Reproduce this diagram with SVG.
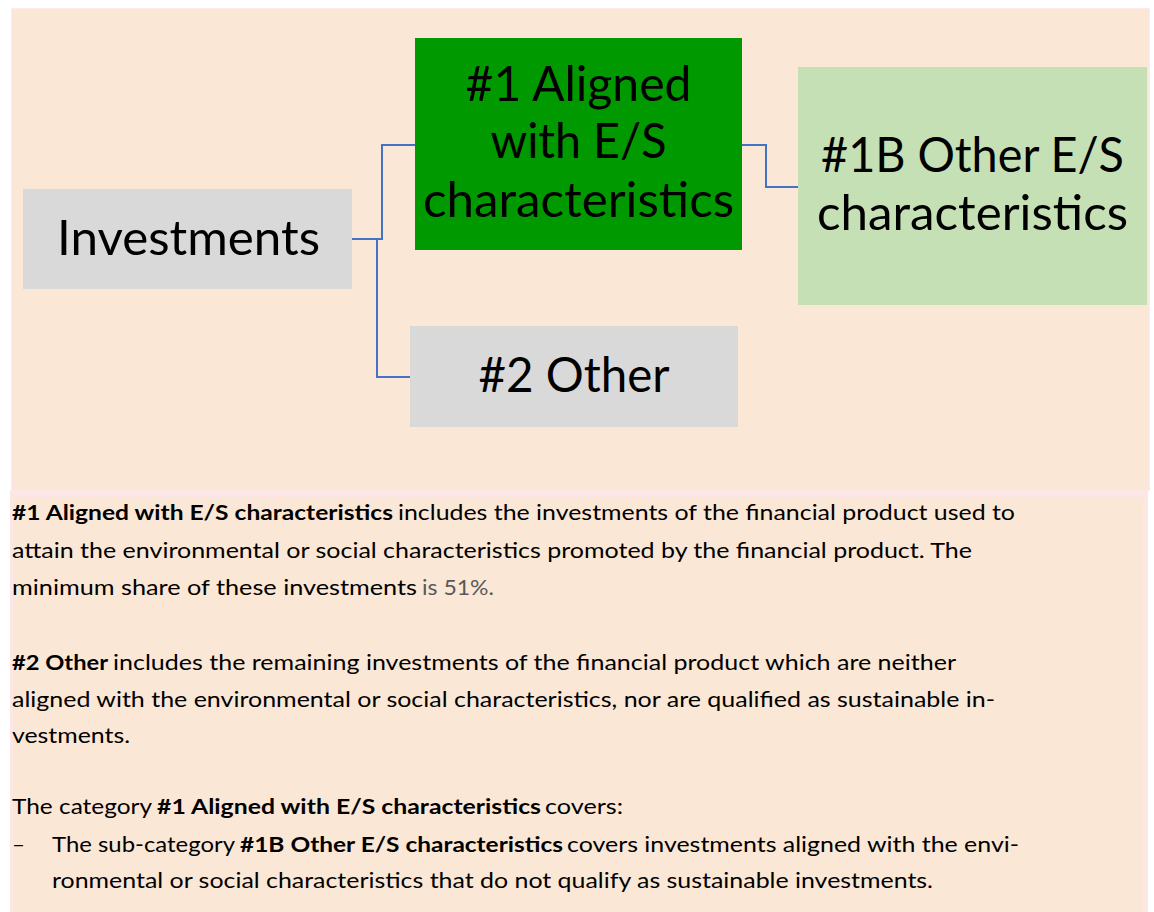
<svg xmlns="http://www.w3.org/2000/svg" width="1154" height="912" viewBox="0 0 1154 912">
<style>
.lbl{font-family:Lato,"Open Sans","Liberation Sans",sans-serif;font-size:48px;fill:#000;text-anchor:middle}
.body{font-family:Lato,"Open Sans","Liberation Sans",sans-serif;font-size:21.5px;fill:#000}
.b{font-weight:bold}
.grey{fill:#595959}
.conn{fill:none;stroke:#4472C4;stroke-width:2}
</style>
<rect x="0" y="0" width="1154" height="912" fill="#ffffff"/>
<rect x="12" y="9" width="1137" height="481" fill="#FBE7D6" stroke="#FDE4E4" stroke-width="1.5"/>
<rect x="10" y="490" width="1138" height="422" fill="#FDE6E6"/>
<rect x="13" y="497" width="1130" height="415" fill="#FBE7D6"/>

<g id="connectors">
<path class="conn" d="M352 239 H382 V145 H415"/>
<path class="conn" d="M377 239 V377 H410"/>
<path class="conn" d="M742 145 H766 V187 H798"/>
</g>

<g id="investments">
<rect x="23" y="189" width="329" height="100" fill="#D9D9D9"/>
<text class="lbl" x="188.5" y="255" textLength="263" lengthAdjust="spacingAndGlyphs">Investments</text>
</g>

<g id="aligned">
<rect x="415" y="38" width="327" height="212" fill="#009900"/>
<text class="lbl" x="578.5" y="101" textLength="226" lengthAdjust="spacingAndGlyphs">#1 Aligned</text>
<text class="lbl" x="578.5" y="158" textLength="176" lengthAdjust="spacingAndGlyphs">with E/S</text>
<text class="lbl" x="578.5" y="217" textLength="311" lengthAdjust="spacingAndGlyphs">characteristics</text>
</g>

<g id="other-es">
<rect x="798" y="67" width="349" height="238" fill="#C5E0B4"/>
<text class="lbl" x="972.5" y="172" textLength="303" lengthAdjust="spacingAndGlyphs">#1B Other E/S</text>
<text class="lbl" x="972.5" y="230" textLength="311" lengthAdjust="spacingAndGlyphs">characteristics</text>
</g>

<g id="other">
<rect x="410" y="326" width="328" height="101" fill="#D9D9D9"/>
<text class="lbl" x="574" y="392" textLength="191" lengthAdjust="spacingAndGlyphs">#2 Other</text>
</g>

<g id="description">
<text class="body" y="520"><tspan class="b" x="12" textLength="381" lengthAdjust="spacingAndGlyphs">#1 Aligned with E/S characteristics</tspan><tspan x="398" textLength="617" lengthAdjust="spacingAndGlyphs">includes the investments of the financial product used to</tspan></text>
<text class="body" x="12" y="558" textLength="960" lengthAdjust="spacingAndGlyphs">attain the environmental or social characteristics promoted by the financial product. The</text>
<text class="body" y="595"><tspan x="12" textLength="405" lengthAdjust="spacingAndGlyphs">minimum share of these investments</tspan><tspan class="grey" x="422" textLength="72" lengthAdjust="spacingAndGlyphs">is 51%.</tspan></text>

<text class="body" y="670"><tspan class="b" x="12" textLength="96" lengthAdjust="spacingAndGlyphs">#2 Other</tspan><tspan x="113" textLength="843" lengthAdjust="spacingAndGlyphs">includes the remaining investments of the financial product which are neither</tspan></text>
<text class="body" x="12" y="707" textLength="983" lengthAdjust="spacingAndGlyphs">aligned with the environmental or social characteristics, nor are qualified as sustainable in-</text>
<text class="body" x="12" y="743" textLength="118" lengthAdjust="spacingAndGlyphs">vestments.</text>

<text class="body" y="814"><tspan x="12" textLength="140" lengthAdjust="spacingAndGlyphs">The category</tspan><tspan class="b" x="157" textLength="384" lengthAdjust="spacingAndGlyphs">#1 Aligned with E/S characteristics</tspan><tspan x="545" textLength="78" lengthAdjust="spacingAndGlyphs">covers:</tspan></text>
<text class="body" y="852"><tspan x="12" textLength="13" lengthAdjust="spacingAndGlyphs">–</tspan><tspan x="52" textLength="183" lengthAdjust="spacingAndGlyphs">The sub-category</tspan><tspan class="b" x="240" textLength="323" lengthAdjust="spacingAndGlyphs">#1B Other E/S characteristics</tspan><tspan x="567" textLength="452" lengthAdjust="spacingAndGlyphs">covers investments aligned with the envi-</tspan></text>
<text class="body" x="52" y="888" textLength="881" lengthAdjust="spacingAndGlyphs">ronmental or social characteristics that do not qualify as sustainable investments.</text>
</g>
</svg>
